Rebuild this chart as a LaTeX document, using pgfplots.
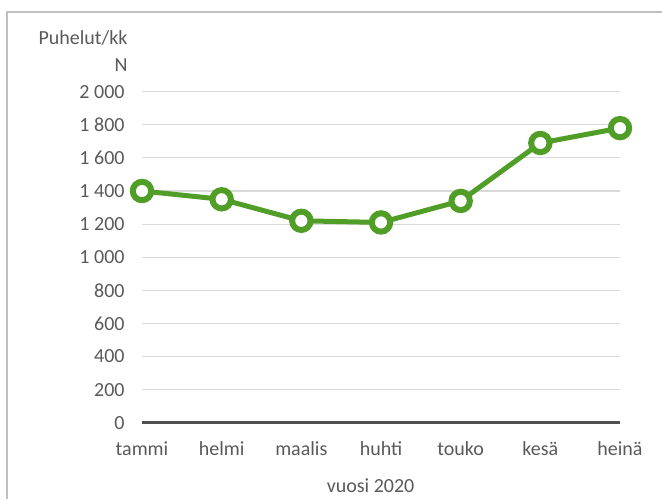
\documentclass[border=0pt]{standalone}
\usepackage{pgfplots}
\pgfplotsset{compat=1.18}
\usepackage{fontspec}
\setmainfont{Carlito}
\definecolor{txt}{HTML}{595959}
\definecolor{grn}{RGB}{80,158,40}
\definecolor{grd}{HTML}{D9D9D9}
\definecolor{frm}{HTML}{C0C0C0}
\definecolor{zer}{HTML}{505050}
\begin{document}
\begin{tikzpicture}
\useasboundingbox (0,0) rectangle (331pt,249.5pt);
\draw[frm, line width=0.6pt] (3.5pt,0) -- (3.5pt,243.5pt) -- (331pt,243.5pt);
\begin{axis}[
  at={(71pt,38.15pt)}, anchor=south west,
  scale only axis, width=239pt, height=165.5pt,
  xmin=0, xmax=6, ymin=0, ymax=2000,
  axis line style={draw=none},
  major tick length=0,
  xtick={0,...,6},
  xticklabels={tammi,helmi,maalis,huhti,touko,kesä,heinä},
  ytick={0,200,...,2000},
  yticklabels={0,200,400,600,800,1 000,1 200,1 400,1 600,1 800,2 000},
  ymajorgrids, grid style={grd, line width=0.55pt},
  extra y ticks={0}, extra y tick labels={},
  extra y tick style={grid style={zer, line width=1.4pt}},
  tick label style={font=\fontsize{10}{12}\selectfont, text=txt},
  xticklabel style={anchor=base, yshift=-16.6pt},
  yticklabel style={anchor=east, xshift=-5.2pt},
  clip=false,
]
\addplot[grn, line width=2.5pt, mark=*, mark size=4.6pt,
  mark options={fill=white, draw=grn, line width=3pt}]
  coordinates {(0,1400) (1,1350) (2,1220) (3,1210) (4,1340) (5,1690) (6,1780)};
\end{axis}
\node[anchor=east, text=txt, font=\fontsize{10}{12}\selectfont, inner sep=0pt] at (64pt,230.5pt) {Puhelut/kk};
\node[anchor=east, text=txt, font=\fontsize{10}{12}\selectfont, inner sep=0pt] at (64pt,217pt) {N};
\node[anchor=base, text=txt, font=\fontsize{10}{12}\selectfont, inner sep=0pt] at (185.3pt,3.5pt) {vuosi 2020};
\end{tikzpicture}
\end{document}
